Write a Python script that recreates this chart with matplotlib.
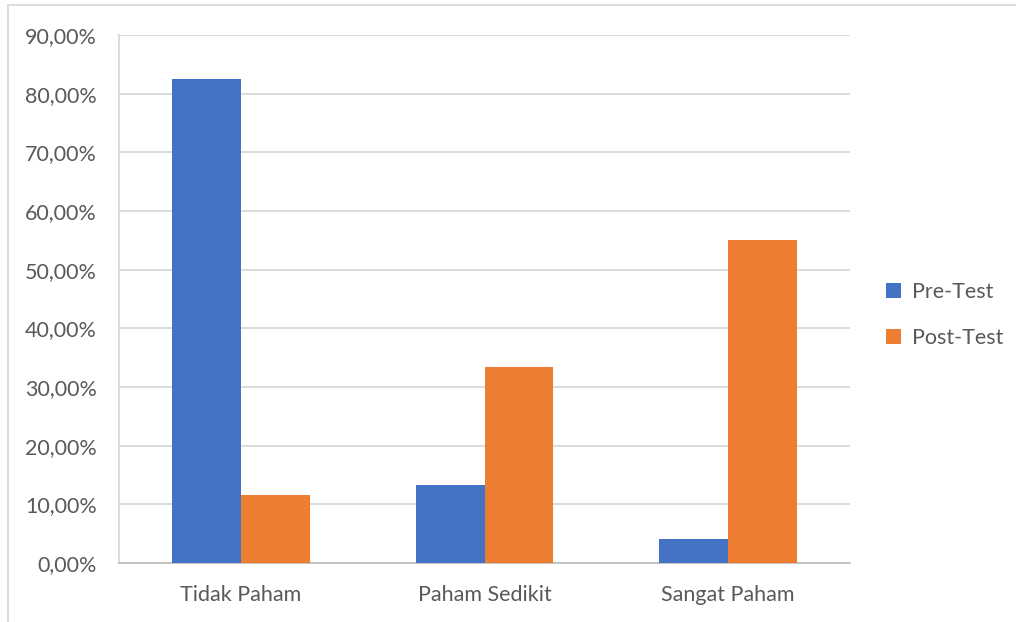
import matplotlib
matplotlib.use("Agg")
import matplotlib.pyplot as plt
from matplotlib.lines import Line2D
import numpy as np

categories = ["Tidak Paham", "Paham Sedikit", "Sangat Paham"]
pre_test = [82.5, 13.33, 4.17]
post_test = [11.67, 33.33, 55.0]
series_names = ["Pre-Test", "Post-Test"]
yticks = [0, 10, 20, 30, 40, 50, 60, 70, 80, 90]
ytick_labels = ["0,00%", "10,00%", "20,00%", "30,00%", "40,00%", "50,00%",
                "60,00%", "70,00%", "80,00%", "90,00%"]

plt.rcParams['font.family'] = ['Lato', 'DejaVu Sans']
text_color = "#595959"
grid_color = "#D9D9D9"

W, H = 1016, 622
fig = plt.figure(figsize=(W / 100, H / 100), dpi=100)
ax = fig.add_axes([119 / W, 1 - 563 / H, (850 - 119) / W, (563 - 35) / H])

x = np.arange(len(categories))
bw = 0.283
ax.bar(x - bw / 2, pre_test, width=bw, color="#4472C4", label=series_names[0], zorder=3)
ax.bar(x + bw / 2, post_test, width=bw, color="#ED7D31", label=series_names[1], zorder=3)

ax.set_xlim(-0.5, len(categories) - 0.5)
ax.set_ylim(0, 90)
ax.set_yticks(yticks)
ax.set_yticklabels(ytick_labels)
ax.set_xticks(x)
ax.set_xticklabels(categories)
ax.tick_params(axis='both', length=0, colors=text_color, labelsize=15.5)
ax.tick_params(axis='y', pad=16)
ax.tick_params(axis='x', pad=16)
ax.yaxis.grid(True, color=grid_color, linewidth=1.3, zorder=0)
for s in ["top", "right"]:
    ax.spines[s].set_visible(False)
ax.spines["left"].set_color(grid_color)
ax.spines["left"].set_linewidth(1.3)
ax.spines["bottom"].set_color("#BFBFBF")
ax.spines["bottom"].set_linewidth(1.3)

leg = fig.legend(loc="center left", bbox_to_anchor=(867 / W, 1 - 315 / H),
                 frameon=False, fontsize=15.5, handlelength=0.7, handleheight=0.7,
                 labelspacing=1.2, handletextpad=0.5)
for t in leg.get_texts():
    t.set_color(text_color)

# outer chart border
fig.add_artist(Line2D([8 / W, 8 / W], [0, 1 - 5 / H], transform=fig.transFigure,
                      color=grid_color, linewidth=1.3))
fig.add_artist(Line2D([8 / W, 1], [1 - 5 / H, 1 - 5 / H], transform=fig.transFigure,
                      color=grid_color, linewidth=1.3))

fig.savefig("out.png", dpi=100)
